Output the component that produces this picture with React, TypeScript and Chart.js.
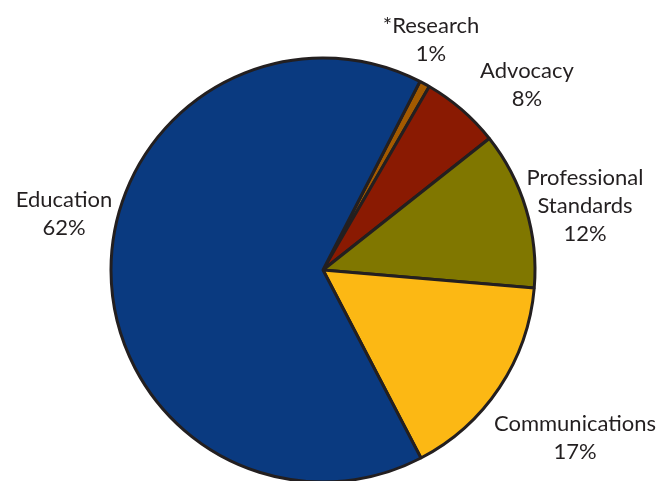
import React, { useEffect, useRef } from "react";
import { Chart, registerables } from "chart.js";

Chart.register(...registerables);

const categories = ["*Research", "Advocacy", "Professional\nStandards", "Communications", "Education"];
const percentLabels = ["1%", "8%", "12%", "17%", "62%"];
const sliceValues = [0.8, 6.0, 12.0, 16.0, 65.2];
const sliceColors = ["#a35a00", "#8a1a02", "#807700", "#fcb814", "#0a3a80"];

// label anchor positions (x center, first baseline)
const labelAnchors = [
  [431, 33],
  [527, 78],
  [585, 185],
  [575, 431],
  [64, 207],
];

const labelPlugin = {
  id: "sliceLabels",
  afterDraw(chart: any) {
    const ctx = chart.ctx;
    ctx.save();
    ctx.fillStyle = "#231f20";
    ctx.font = "22px Lato";
    ctx.textAlign = "center";
    ctx.textBaseline = "alphabetic";
    const lineH = 28;
    categories.forEach((cat, i) => {
      const lines = cat.split("\n").concat([percentLabels[i]]);
      const [x, y] = labelAnchors[i];
      lines.forEach((ln, j) => ctx.fillText(ln, x, y + j * lineH));
    });
    ctx.restore();
  },
};

export default function App() {
  const ref = useRef<HTMLCanvasElement>(null);
  useEffect(() => {
    document.body.style.margin = "0";
    const chart = new Chart(ref.current!, {
      type: "pie",
      data: {
        labels: categories.map((c) => c.replace("\n", " ")),
        datasets: [
          {
            data: sliceValues,
            backgroundColor: sliceColors,
            borderColor: "#231f20",
            borderWidth: 3,
          },
        ],
      },
      options: {
        responsive: false,
        animation: false,
        rotation: 27.2,
        radius: 212,
        layout: { padding: { top: 59, bottom: 0, left: 0, right: 16 } },
        plugins: { legend: { display: false }, tooltip: { enabled: false } },
      },
      plugins: [labelPlugin],
    });
    return () => chart.destroy();
  }, []);
  return (
    <div style={{ position: "absolute", left: 0, top: 0, width: 662, height: 481 }}>
      <canvas ref={ref} width={662} height={481} style={{ width: 662, height: 481 }} />
    </div>
  );
}
